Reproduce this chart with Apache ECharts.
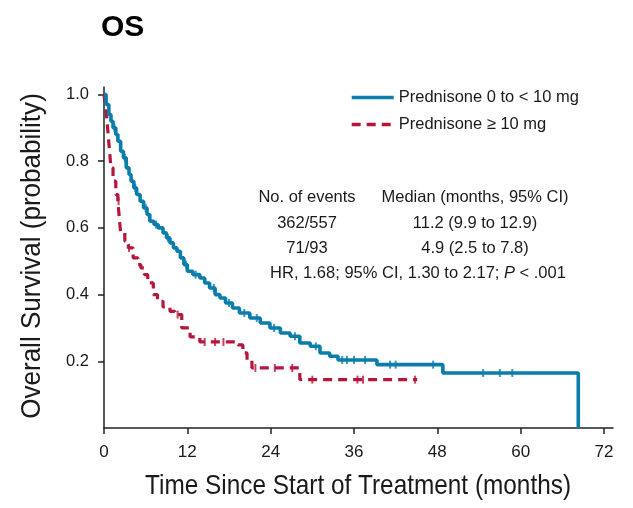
<!DOCTYPE html>
<html>
<head>
<meta charset="utf-8">
<script src="https://cdn.jsdelivr.net/npm/echarts@6/dist/echarts.min.js"></script>
<style>
  html, body { margin: 0; padding: 0; background: #fff; }
  #chart { width: 633px; height: 508px; }
</style>
</head>
<body>
<div id="chart"></div>
<script>
// Kaplan-Meier overall survival by prednisone dose group

const xTicks = [0, 12, 24, 36, 48, 60, 72];
const yTicks = [0.2, 0.4, 0.6, 0.8, 1.0];

// Prednisone 0 to < 10 mg: step times (months) and survival probability from that time on
const lowTimes = [0, 0.3, 0.7, 1.0, 1.3, 1.7, 2.0, 2.4, 2.8, 3.2, 3.6, 3.9, 4.3, 4.7, 5.2, 5.7, 6.2, 6.6,
  7.2, 7.8, 8.5, 9.0, 9.5, 10.0, 10.5, 11.0, 11.5, 12.0, 12.8, 13.8, 14.5, 15.2, 16.0, 16.7, 17.5,
  18.5, 19.5, 21.0, 22.5, 23.9, 25.4, 26.8, 28.2, 29.7, 31.1, 32.5, 33.7, 39.3, 48.8, 68.3];
const lowSurv = [1.0, 0.97, 0.94, 0.92, 0.90, 0.88, 0.86, 0.83, 0.81, 0.78, 0.76, 0.74, 0.72, 0.70, 0.68, 0.66, 0.64, 0.62,
  0.61, 0.60, 0.585, 0.57, 0.555, 0.54, 0.53, 0.51, 0.49, 0.47, 0.46, 0.45, 0.435, 0.42, 0.40, 0.39, 0.375,
  0.36, 0.345, 0.33, 0.315, 0.30, 0.285, 0.275, 0.255, 0.245, 0.225, 0.215, 0.204, 0.19, 0.165, 0.0];
const lowCensored = [1.5, 3.0, 4.5, 6.0, 7.5, 9.2, 11.8, 13.2, 15.8, 18.0, 20.2, 22.0, 24.5, 27.5, 30.5,
  34.3, 35.0, 36.0, 37.6, 41.2, 42.0, 47.4, 54.6, 57.0, 58.8];

// Prednisone >= 10 mg
const highTimes = [0, 0.2, 0.4, 0.6, 0.8, 1.0, 1.3, 1.7, 2.0, 2.2, 2.4, 3.0, 3.5, 4.2, 4.9, 5.3, 5.8, 6.3,
  7.1, 7.7, 8.5, 9.5, 10.2, 11.2, 12.4, 13.8, 19.3, 20.0, 20.6, 21.3, 28.2, 45.1];
const highSurv = [1.0, 0.97, 0.93, 0.88, 0.83, 0.78, 0.74, 0.70, 0.68, 0.63, 0.585, 0.56, 0.54, 0.51, 0.49, 0.48, 0.46, 0.435,
  0.40, 0.38, 0.363, 0.35, 0.34, 0.30, 0.273, 0.258, 0.249, 0.225, 0.204, 0.18, 0.145, 0.145];
const highCensored = [2.1, 3.6, 10.6, 14.5, 16.0, 17.2, 21.8, 24.6, 27.1, 30.0, 36.5, 37.3, 44.8];

const lowName = 'Prednisone 0 to < 10 mg';
const highName = 'Prednisone \u2265 10 mg';
const blue = '#0a7dab';
const red = '#b5163c';

function pairs(times, surv) {
  return times.map((t, i) => [t, surv[i]]);
}
function survivalAt(times, surv, t) {
  let s = surv[0];
  for (let i = 0; i < times.length; i++) {
    if (times[i] <= t) s = surv[i]; else break;
  }
  return s;
}
function censorPoints(times, surv, cens) {
  return cens.map(t => [t, survivalAt(times, surv, t)]);
}

const textFont = '"Liberation Sans", Arial, sans-serif';
const ink = '#1a1a1a';

function note(x, y, text) {
  return {
    type: 'text', x: x, y: y,
    style: { text: text, font: '16.5px ' + textFont, fill: ink, align: 'center', verticalAlign: 'middle' }
  };
}

const chart = echarts.init(document.getElementById('chart'), null, { renderer: 'canvas' });
chart.setOption({
  animation: false,
  backgroundColor: '#fff',
  title: {
    text: 'OS',
    left: 96,
    top: 8,
    textStyle: { fontFamily: textFont, fontWeight: 'bold', fontSize: 30, color: '#000' }
  },
  legend: {
    data: [lowName, highName],
    orient: 'vertical',
    left: 345,
    top: 84,
    itemWidth: 42,
    itemHeight: 16,
    itemGap: 10,
    itemStyle: { opacity: 0 },
    lineStyle: { width: 3.4 },
    textStyle: { fontFamily: textFont, fontSize: 16.5, color: ink }
  },
  grid: { left: 104, right: 20, top: 87, bottom: 80, containLabel: false },
  xAxis: {
    type: 'value',
    min: 0,
    max: 73.3,
    interval: 12,
    axisLine: { lineStyle: { color: '#222', width: 1.5 } },
    axisTick: { show: true, length: 6, customValues: xTicks, lineStyle: { color: '#222', width: 1.5 } },
    axisLabel: { customValues: xTicks, margin: 16, fontFamily: textFont, fontSize: 17, color: ink },
    splitLine: { show: false }
  },
  yAxis: {
    type: 'value',
    min: 0,
    max: 1.0225,
    axisLine: { show: true, lineStyle: { color: '#222', width: 1.5 } },
    axisTick: { show: true, length: 6, customValues: yTicks, lineStyle: { color: '#222', width: 1.5 } },
    axisLabel: { customValues: yTicks, margin: 15, formatter: v => v.toFixed(1), fontFamily: textFont, fontSize: 16.5, color: ink },
    splitLine: { show: false }
  },
  series: [
    {
      name: lowName,
      type: 'line',
      step: 'end',
      symbol: 'none',
      data: pairs(lowTimes, lowSurv),
      lineStyle: { color: blue, width: 3.6 },
      itemStyle: { color: blue },
      z: 3
    },
    {
      name: highName,
      type: 'line',
      step: 'end',
      symbol: 'none',
      data: pairs(highTimes, highSurv),
      lineStyle: { color: red, width: 3.2, type: [9, 6] },
      itemStyle: { color: red },
      z: 2
    },
    {
      name: 'low-censored',
      type: 'scatter',
      symbol: 'rect',
      symbolSize: [2, 8],
      data: censorPoints(lowTimes, lowSurv, lowCensored),
      itemStyle: { color: blue },
      z: 4
    },
    {
      name: 'high-censored',
      type: 'scatter',
      symbol: 'rect',
      symbolSize: [2, 8],
      data: censorPoints(highTimes, highSurv, highCensored),
      itemStyle: { color: red },
      z: 4
    }
  ],
  graphic: [
    // axis titles, set in a condensed style
    {
      type: 'text', x: 358, y: 486, scaleX: 0.87,
      style: { text: 'Time Since Start of Treatment (months)', font: '28px ' + textFont, fill: ink, align: 'center', verticalAlign: 'middle' }
    },
    {
      type: 'text', x: 32, y: 256, rotation: Math.PI / 2, scaleX: 0.93,
      style: { text: 'Overall Survival (probability)', font: '28px ' + textFont, fill: ink, align: 'center', verticalAlign: 'middle' }
    },
    note(307, 197, 'No. of events'),
    note(475, 197, 'Median (months, 95% CI)'),
    note(307, 223, '362/557'),
    note(475, 223, '11.2 (9.9 to 12.9)'),
    note(307, 248, '71/93'),
    note(475, 248, '4.9 (2.5 to 7.8)'),
    {
      type: 'text', x: 418, y: 273,
      style: {
        text: '{n|HR, 1.68; 95% CI, 1.30 to 2.17; }{i|P}{n| < .001}',
        align: 'center', verticalAlign: 'middle',
        rich: {
          n: { font: '16.5px ' + textFont, fill: ink },
          i: { font: 'italic 16.5px ' + textFont, fill: ink }
        }
      }
    }
  ]
});
</script>
</body>
</html>
